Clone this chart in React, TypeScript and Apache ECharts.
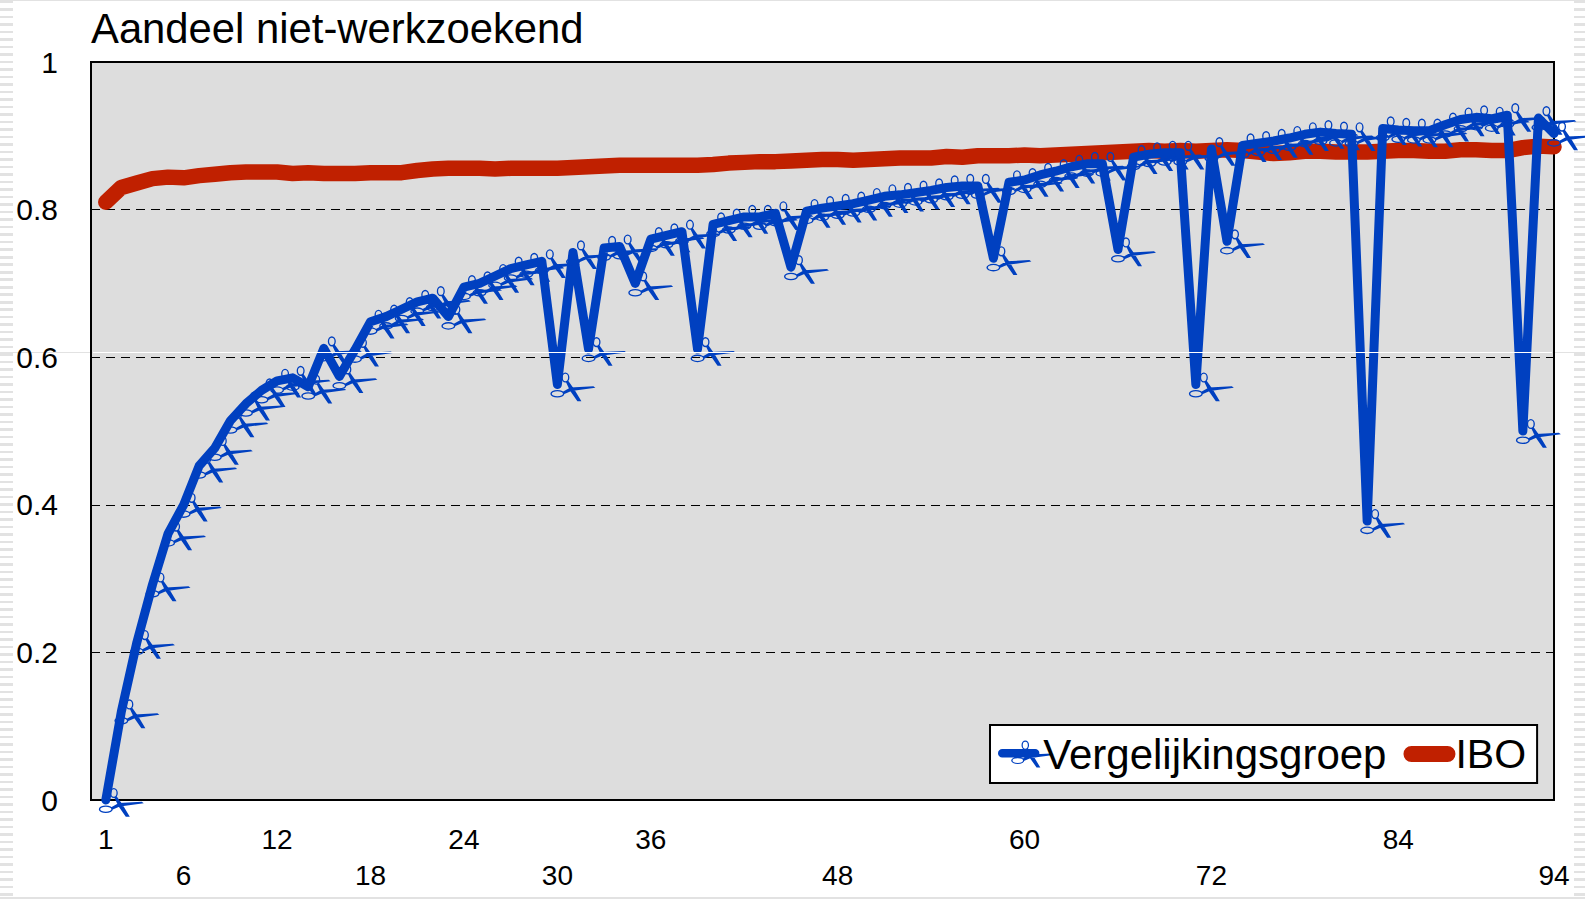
import React, { useEffect, useRef } from "react";
import * as echarts from "echarts";

const titleText = "Aandeel niet-werkzoekend";
const seriesNames = ["Vergelijkingsgroep", "IBO"];
const upperTicks = [1, 12, 24, 36, 60, 84];
const lowerTicks = [6, 18, 30, 48, 72, 94];

const groupValues = [
  0, 0.12, 0.214, 0.292, 0.361, 0.4, 0.453, 0.477, 0.514, 0.537,
  0.555, 0.568, 0.572, 0.56, 0.612, 0.574, 0.61, 0.648, 0.655, 0.665,
  0.675, 0.68, 0.655, 0.695, 0.7, 0.71, 0.72, 0.725, 0.73, 0.563,
  0.742, 0.611, 0.748, 0.75, 0.7, 0.76, 0.765, 0.77, 0.611, 0.78,
  0.785, 0.79, 0.79, 0.795, 0.722, 0.798, 0.802, 0.805, 0.808, 0.813,
  0.818, 0.82, 0.823, 0.826, 0.83, 0.832, 0.832, 0.734, 0.837, 0.84,
  0.847, 0.852, 0.858, 0.862, 0.862, 0.746, 0.871, 0.875, 0.877, 0.877,
  0.563, 0.882, 0.757, 0.887, 0.89, 0.893, 0.897, 0.902, 0.905, 0.903,
  0.902, 0.378, 0.91, 0.908, 0.907, 0.907, 0.915, 0.922, 0.925, 0.923,
  0.928, 0.5, 0.924, 0.903,
];

const iboValues = [
  0.81, 0.83, 0.836, 0.842, 0.844, 0.843, 0.846, 0.848, 0.85, 0.851,
  0.851, 0.851, 0.849, 0.85, 0.849, 0.849, 0.849, 0.85, 0.85, 0.85,
  0.853, 0.855, 0.856, 0.856, 0.856, 0.855, 0.856, 0.856, 0.856, 0.856,
  0.857, 0.858, 0.859, 0.86, 0.86, 0.86, 0.86, 0.86, 0.86, 0.861,
  0.863, 0.864, 0.865, 0.865, 0.866, 0.867, 0.868, 0.868, 0.867, 0.868,
  0.869, 0.87, 0.87, 0.87, 0.872, 0.871, 0.873, 0.873, 0.873, 0.874,
  0.873, 0.874, 0.875, 0.876, 0.877, 0.878, 0.879, 0.88, 0.879, 0.88,
  0.879, 0.88, 0.881, 0.88, 0.878, 0.876, 0.877, 0.879, 0.879, 0.878,
  0.878, 0.878, 0.879, 0.88, 0.88, 0.879, 0.879, 0.881, 0.881, 0.88,
  0.88, 0.884, 0.886, 0.885,
];

const scissors = (dx: number) => {
  const p = (x: number, y: number) => `${x + dx} ${y}`;
  return [
    `M${p(12, 19.5)} L${p(20, 15)} L${p(43, 13.8)} L${p(45, 15.3)} L${p(21, 18.5)} L${p(14, 21.5)} Z`,
    `M${p(15.5, 9.5)} L${p(18, 8.5)} L${p(24, 17)} L${p(31, 28.7)} L${p(27, 28.7)} L${p(19.5, 18)} Z`,
    `M${p(0, 21.3)} A7 3.8 0 1 1 ${p(14, 21.3)} A7 3.8 0 1 1 ${p(0, 21.3)} Z`,
    `M${p(1.4, 21.3)} A5.6 2.5 0 1 0 ${p(12.6, 21.3)} A5.6 2.5 0 1 0 ${p(1.4, 21.3)} Z`,
    `M${p(11, 5)} A4 5 0 1 1 ${p(19, 5)} A4 5 0 1 1 ${p(11, 5)} Z`,
    `M${p(12.3, 5)} A2.7 3.7 0 1 0 ${p(17.7, 5)} A2.7 3.7 0 1 0 ${p(12.3, 5)} Z`,
  ].join(" ");
};

const bar = (w: number, h: number, t: number) => {
  const r = t / 2;
  const y0 = h / 2 - r;
  const y1 = h / 2 + r;
  return `M${r} ${y0} L${w - r} ${y0} A${r} ${r} 0 0 1 ${w - r} ${y1} L${r} ${y1} A${r} ${r} 0 0 1 ${r} ${y0} Z`;
};

const BLUE = "#0040C0";
const RED = "#C02000";
const FONT = '"Liberation Sans", Arial, sans-serif';
const sideStripes = "repeating-linear-gradient(to bottom, #e2e2e2 0px, #e2e2e2 2.5px, transparent 2.5px, transparent 7.5px)";

export default function App() {
  const ref = useRef<HTMLDivElement>(null);
  useEffect(() => {
    const chart = echarts.init(ref.current!, null, { renderer: "svg" });
    const xBase = {
      type: "value",
      position: "bottom",
      min: 0.05,
      max: 94,
      axisLine: { show: false },
      axisTick: { show: false },
      splitLine: { show: false },
    };
    const xLabel = { color: "#000", fontFamily: FONT, fontSize: 28 };
    chart.setOption({
      animation: false,
      backgroundColor: "transparent",
      title: {
        text: titleText,
        left: 91,
        top: 7,
        padding: 0,
        textStyle: { color: "#000", fontFamily: FONT, fontSize: 41.8, fontWeight: "normal" },
      },
      grid: {
        show: true,
        left: 91,
        top: 62,
        width: 1463,
        height: 738,
        outerBoundsMode: "none",
        containLabel: false,
        backgroundColor: "#DDDDDD",
        borderColor: "#000",
        borderWidth: 2,
      },
      xAxis: [
        { ...xBase, axisLabel: { ...xLabel, margin: 25, customValues: upperTicks } },
        { ...xBase, axisLabel: { ...xLabel, margin: 61, customValues: lowerTicks } },
      ],
      yAxis: {
        type: "value",
        min: 0,
        max: 1,
        interval: 0.2,
        axisLine: { show: false },
        axisTick: { show: false },
        axisLabel: { color: "#000", fontFamily: FONT, fontSize: 30, margin: 33, align: "right" },
        splitLine: { show: true, lineStyle: { color: "#000", width: 1, type: [9, 6] } },
      },
      legend: {
        left: 990,
        top: 725,
        orient: "horizontal",
        padding: [8, 11, 8, 8],
        backgroundColor: "#fff",
        borderColor: "#000",
        borderWidth: 2,
        borderRadius: 0,
        itemWidth: 59,
        itemHeight: 27,
        itemGap: 17,
        itemStyle: { borderWidth: 0 },
        textStyle: { color: "#000", fontFamily: FONT, fontSize: 42 },
        data: [
          {
            name: seriesNames[0],
            icon: "path://" + bar(44, 27, 9) + " " + scissors(14),
            textStyle: { padding: [0, 0, 0, -17] },
          },
          {
            name: seriesNames[1],
            icon: "path://" + bar(52, 27, 16) + " M0 0 L59 0 L59 27 L59 0 Z",
            textStyle: { fontSize: 41, padding: [0, 0, 0, -12] },
          },
        ],
      },
      series: [
        {
          name: seriesNames[1],
          type: "line",
          xAxisIndex: 0,
          z: 2,
          clip: false,
          symbol: "none",
          itemStyle: { color: RED },
          lineStyle: { color: RED, width: 15.5, cap: "round", join: "round" },
          data: iboValues.map((v, i) => [i + 1, v]),
        },
        {
          name: seriesNames[0],
          type: "line",
          xAxisIndex: 0,
          z: 3,
          clip: false,
          symbol: "path://" + scissors(0),
          symbolSize: [45, 28.7],
          symbolOffset: [15.5, 2.35],
          showSymbol: true,
          showAllSymbol: true,
          itemStyle: { color: BLUE, borderWidth: 0 },
          lineStyle: { color: BLUE, width: 9, cap: "round", join: "round" },
          data: groupValues.map((v, i) => [i + 1, v]),
        },
      ],
      graphic: [
        {
          type: "rect",
          z: 100,
          silent: true,
          shape: { x: 93, y: 352, width: 1459, height: 1 },
          style: { fill: "#fff" },
        },
      ],
    });
    return () => chart.dispose();
  }, []);

  return (
    <div style={{ position: "fixed", left: 0, top: 0, width: 1585, height: 899, background: "#fff", overflow: "hidden" }}>
      <div style={{ position: "absolute", left: 0, top: 1, width: 13, height: 898, background: sideStripes }} />
      <div style={{ position: "absolute", left: 1574, top: 1, width: 11, height: 898, background: sideStripes }} />
      <div style={{ position: "absolute", left: 0, top: 0, width: 1585, height: 1, background: "#e2e2e2" }} />
      <div style={{ position: "absolute", left: 0, top: 897, width: 1585, height: 2, background: "#e2e2e2" }} />
      <div style={{ position: "absolute", left: 0, top: 352, width: 1585, height: 1, background: "#e2e2e2" }} />
      <div ref={ref} style={{ position: "absolute", left: 0, top: 0, width: 1585, height: 899 }} />
    </div>
  );
}
